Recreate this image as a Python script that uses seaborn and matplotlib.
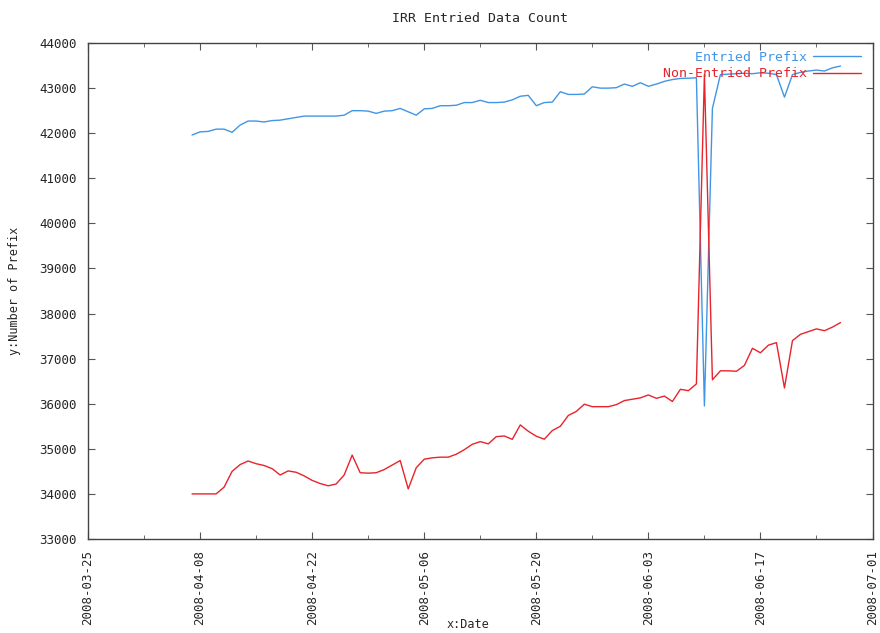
import pandas as pd
import matplotlib
matplotlib.use("Agg")
import matplotlib.pyplot as plt
import matplotlib.dates as mdates
import seaborn as sns

# daily counts, 2008-04-07 .. 2008-06-27
start_date = "2008-04-07"
entried = [
    41960, 42030, 42040, 42090, 42090, 42020, 42180, 42270, 42270, 42250,
    42280, 42290, 42320, 42350, 42380, 42380, 42380, 42380, 42380, 42400,
    42500, 42500, 42490, 42440, 42490, 42500, 42550, 42475, 42400, 42540,
    42550, 42610, 42610, 42620, 42680, 42680, 42730, 42680, 42680, 42690,
    42740, 42820, 42840, 42610, 42680, 42690, 42920, 42860, 42860, 42870,
    43030, 43000, 43000, 43010, 43090, 43040, 43120, 43040, 43090, 43150,
    43190, 43215, 43220, 43230, 35950, 42550, 43300, 43310, 43320, 43330,
    43320, 43340, 43330, 43300, 42800, 43300, 43350, 43380, 43400, 43380,
    43450, 43490,
]
non_entried = [
    34000, 34000, 34000, 34000, 34150, 34500, 34650, 34730, 34670, 34630,
    34560, 34420, 34510, 34480, 34400, 34300, 34230, 34180, 34220, 34420,
    34860, 34470, 34460, 34470, 34540, 34640, 34740, 34110, 34580, 34770,
    34800, 34815, 34815, 34880, 34980, 35100, 35160, 35110, 35270, 35285,
    35210, 35530, 35390, 35280, 35213, 35405, 35500, 35740, 35830, 35990,
    35935, 35935, 35935, 35980, 36070, 36100, 36130, 36195, 36120, 36170,
    36050, 36320, 36290, 36440, 43300, 36530, 36730, 36730, 36720, 36850,
    37230, 37130, 37300, 37355, 36350, 37400, 37540, 37600, 37660, 37620,
    37700, 37800,
]
series_names = ["Entried Prefix", "Non-Entried Prefix"]
series_colors = ["#4096e6", "#e8232b"]

dates = pd.date_range(start_date, periods=len(entried), freq="D")
df = pd.concat([
    pd.DataFrame({"date": dates, "count": entried, "series": series_names[0]}),
    pd.DataFrame({"date": dates, "count": non_entried, "series": series_names[1]}),
])

sns.set_style("ticks")
plt.rcParams["font.family"] = ["DejaVu Sans Mono", "DejaVu Sans"]

fig = plt.figure(figsize=(8.8, 6.33), dpi=100)
ax = fig.add_axes([0.1, 0.1485, 0.8915, 0.7835])

sns.lineplot(data=df, x="date", y="count", hue="series",
             palette=dict(zip(series_names, series_colors)),
             linewidth=1.0, ax=ax)

ax.set_xlim(pd.Timestamp("2008-03-25"), pd.Timestamp("2008-07-01"))
ax.set_ylim(33000, 44000)
ax.set_yticks(range(33000, 44001, 1000))
ax.set_xticks(pd.date_range("2008-03-25", "2008-07-01", freq="14D"))
ax.set_xticks(pd.date_range("2008-04-01", "2008-06-24", freq="14D"), minor=True)
ax.xaxis.set_major_formatter(mdates.DateFormatter("%Y-%m-%d"))
plt.setp(ax.get_xticklabels(), rotation=90)

ax.tick_params(which="both", direction="in", top=True, right=True,
               labelsize=9, color="#555555", pad=8)
ax.tick_params(which="major", length=5)
ax.tick_params(which="minor", length=3)
for s in ax.spines.values():
    s.set_color("#444444")
    s.set_linewidth(1.0)

ax.set_title("IRR Entried Data Count", fontsize=9.5, pad=15)
ax.set_xlabel("x:Date", fontsize=8.5)
ax.xaxis.set_label_coords(0.484, -0.16)
ax.set_ylabel("y:Number of Prefix", fontsize=8.5)
ax.yaxis.set_label_coords(-0.085, 0.5)

leg = ax.legend(title=None, loc="upper right", markerfirst=False, frameon=False,
                fontsize=9.5, handlelength=3.6, borderaxespad=0.2,
                labelspacing=0.25, handletextpad=0.5,
                bbox_to_anchor=(0.995, 1.0))
for txt, c in zip(leg.get_texts(), series_colors):
    txt.set_color(c)

fig.savefig("out.png", dpi=100)
